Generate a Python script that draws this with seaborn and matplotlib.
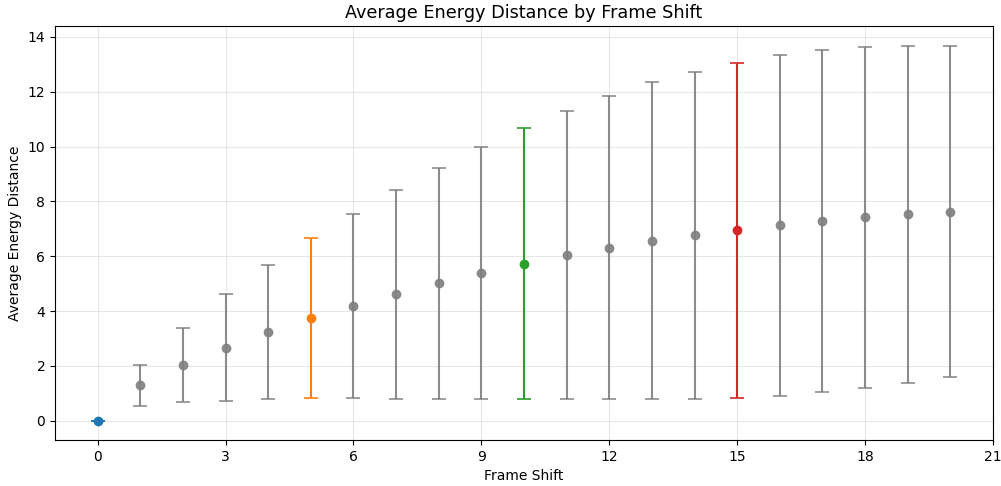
"""Average energy distance per frame shift, with std error bars."""

import matplotlib
matplotlib.use("Agg")
import matplotlib.pyplot as plt
import seaborn as sns

shifts = list(range(21))
mean_dist = [0.0, 1.29, 2.03, 2.67, 3.24, 3.75, 4.20, 4.61, 5.01, 5.39, 5.73,
             6.05, 6.32, 6.56, 6.76, 6.95, 7.13, 7.29, 7.42, 7.53, 7.63]
std_dist = [0.0, 0.74, 1.36, 1.94, 2.44, 2.90, 3.36, 3.80, 4.21, 4.59, 4.94,
            5.25, 5.54, 5.78, 5.97, 6.11, 6.22, 6.23, 6.21, 6.14, 6.05]
highlight = {0: 0, 5: 1, 10: 2, 15: 3}  # shift -> tab10 index

palette = sns.color_palette("tab10")

fig, ax = plt.subplots(figsize=(10.01, 4.86), dpi=100)

for s, m, e in zip(shifts, mean_dist, std_dist):
    c = palette[highlight[s]] if s in highlight else "gray"
    ax.errorbar(s, m, yerr=e, fmt="o", color=c, ecolor=c, capsize=5,
                markersize=6, elinewidth=1.5, capthick=1.2,
                alpha=1.0 if s in highlight else 0.9)

ax.set_xticks(range(0, 22, 3))
ax.set_xlim(-1, 21)
ax.set_ylim(-0.7, 14.4)
ax.grid(True, alpha=0.3)
ax.set_title("Average Energy Distance by Frame Shift", fontsize=12.7)
ax.set_xlabel("Frame Shift", fontsize=10)
ax.set_ylabel("Average Energy Distance", fontsize=10)
ax.tick_params(labelsize=10)

fig.subplots_adjust(left=55 / 1001, right=993 / 1001,
                    top=1 - 26 / 486, bottom=1 - 440 / 486)
plt.savefig("out.png", dpi=100)
plt.close()
